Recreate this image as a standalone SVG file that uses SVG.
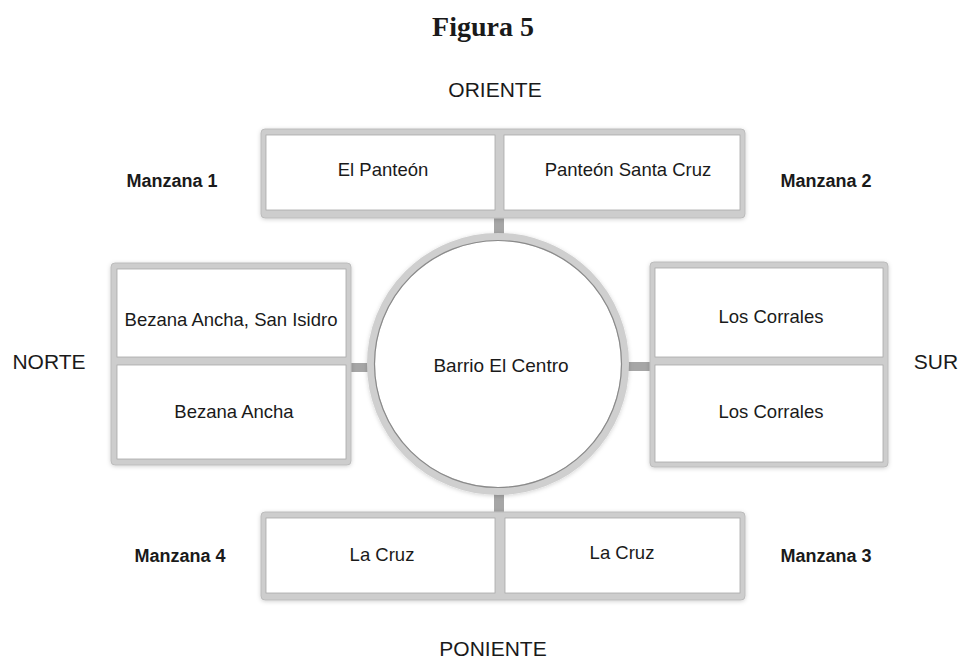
<svg xmlns="http://www.w3.org/2000/svg" width="961" height="660" viewBox="0 0 961 660">
<style>
.title{font-family:"Liberation Serif",serif;font-weight:bold;font-size:28px;fill:#1a1a1a}
.dir{font-family:"Liberation Sans",Arial,sans-serif;font-size:21px;fill:#1a1a1a}
.mz{font-family:"Liberation Sans",Arial,sans-serif;font-weight:bold;font-size:18px;fill:#1a1a1a}
.cell{font-family:"Liberation Sans",Arial,sans-serif;font-size:18.5px;fill:#1a1a1a}
.box{fill:#cdcdcd;stroke:#bcbcbc;stroke-width:1}
.inner{fill:#ffffff;stroke:#a9a9a9;stroke-width:0.8}
.conn{fill:#a6a6a6}
</style>
<defs>
<filter id="sh" x="-5%" y="-5%" width="110%" height="115%">
<feGaussianBlur in="SourceAlpha" stdDeviation="2"/>
<feOffset dx="0" dy="1" result="b"/>
<feFlood flood-color="#000" flood-opacity="0.18"/>
<feComposite in2="b" operator="in"/>
<feMerge><feMergeNode/><feMergeNode in="SourceGraphic"/></feMerge>
</filter>
</defs>
<rect width="961" height="660" fill="#ffffff"/>
<text class="title" x="483" y="36" text-anchor="middle">Figura 5</text>

<g id="labels">
<text class="dir" x="495" y="97" text-anchor="middle">ORIENTE</text>
<text class="dir" x="49" y="369" text-anchor="middle">NORTE</text>
<text class="dir" x="936" y="369" text-anchor="middle">SUR</text>
<text class="dir" x="493" y="656" text-anchor="middle">PONIENTE</text>
<text class="mz" x="172" y="187" text-anchor="middle">Manzana 1</text>
<text class="mz" x="826" y="187" text-anchor="middle">Manzana 2</text>
<text class="mz" x="826" y="562" text-anchor="middle">Manzana 3</text>
<text class="mz" x="180" y="562" text-anchor="middle">Manzana 4</text>
</g>

<g id="connectors">
<rect class="conn" x="494" y="216" width="10" height="20"/>
<rect class="conn" x="349" y="363" width="22" height="9"/>
<rect class="conn" x="625" y="362" width="27" height="9"/>
<rect class="conn" x="494" y="492" width="10" height="21"/>
</g>

<g id="oriente">
<rect class="box" x="261" y="129" width="484" height="89" rx="4" filter="url(#sh)"/>
<rect class="inner" x="266" y="135" width="229" height="75"/>
<rect class="inner" x="504" y="135" width="236" height="75"/>
<text class="cell" x="383" y="176" text-anchor="middle">El Panteón</text>
<text class="cell" x="628" y="176" text-anchor="middle">Panteón Santa Cruz</text>
</g>

<g id="norte">
<rect class="box" x="111" y="263" width="240" height="202" rx="4" filter="url(#sh)"/>
<rect class="inner" x="117" y="269" width="229" height="88"/>
<rect class="inner" x="117" y="365" width="229" height="94"/>
<text class="cell" x="231" y="326" text-anchor="middle">Bezana Ancha, San Isidro</text>
<text class="cell" x="234" y="418" text-anchor="middle">Bezana Ancha</text>
</g>

<g id="sur">
<rect class="box" x="650" y="262" width="238" height="205" rx="4" filter="url(#sh)"/>
<rect class="inner" x="655" y="268" width="228" height="89"/>
<rect class="inner" x="655" y="365" width="228" height="97"/>
<text class="cell" x="771" y="323" text-anchor="middle">Los Corrales</text>
<text class="cell" x="771" y="418" text-anchor="middle">Los Corrales</text>
</g>

<g id="poniente">
<rect class="box" x="261" y="512" width="484" height="88" rx="4" filter="url(#sh)"/>
<rect class="inner" x="266" y="518" width="229" height="75"/>
<rect class="inner" x="505" y="518" width="235" height="75"/>
<text class="cell" x="382" y="561" text-anchor="middle">La Cruz</text>
<text class="cell" x="622" y="559" text-anchor="middle">La Cruz</text>
</g>

<g id="centro">
<circle cx="498" cy="364" r="127" fill="#ffffff" stroke="#cfcfcf" stroke-width="8" filter="url(#sh)"/>
<circle cx="498" cy="364" r="123.5" fill="none" stroke="#8a8a8a" stroke-width="1.2"/>
<text class="cell" x="501" y="372" text-anchor="middle" style="font-size:19px">Barrio El Centro</text>
</g>
</svg>
